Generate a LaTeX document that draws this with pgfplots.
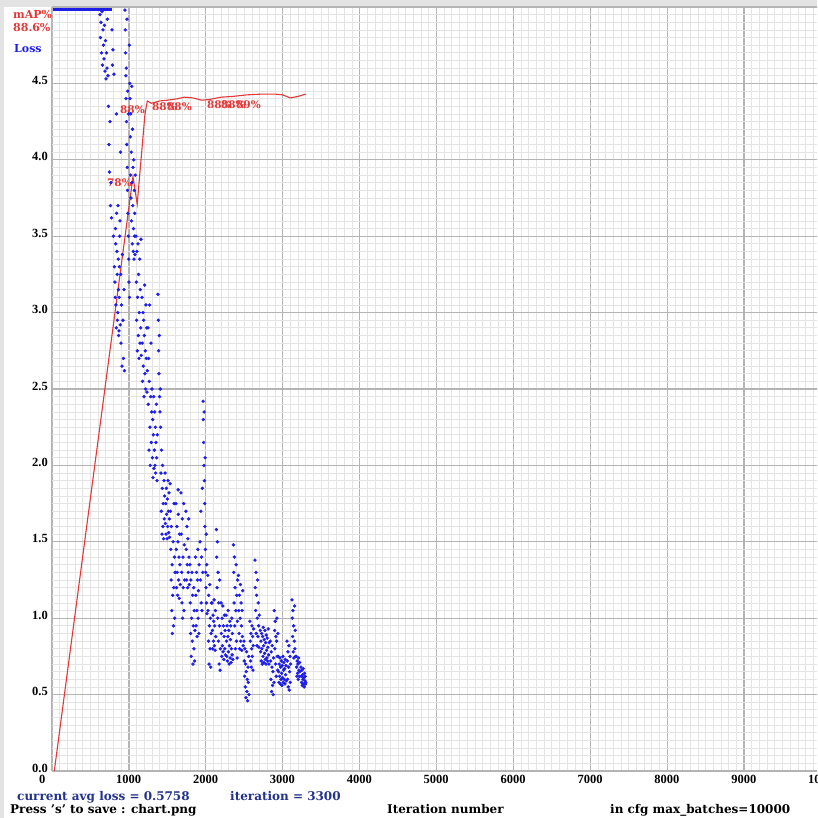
\documentclass[border=0pt]{standalone}
\usepackage{pgfplots}
\pgfplotsset{compat=1.18}
\usepackage{fontspec}
\setmainfont{DejaVu Serif}
\newfontfamily\lib{Liberation Serif}
\definecolor{bord}{HTML}{E3E3E3}
\definecolor{majg}{HTML}{B4B4B4}
\definecolor{ming}{HTML}{E4E4E4}
\definecolor{lossblue}{RGB}{30,30,230}
\definecolor{mapred}{RGB}{228,55,55}
\definecolor{navy}{RGB}{35,50,140}
\begin{document}
\begin{tikzpicture}[x=1pt,y=1pt]
\useasboundingbox (0,0) rectangle (817,-818);
\fill[bord] (0,0) rectangle (817,-818);
\fill[white] (4,-7) rectangle (817,-818);
\clip (0,0) rectangle (817,-818);
\begin{axis}[
  at={(52pt,-771pt)}, anchor=south west,
  scale only axis, width=769pt, height=764pt,
  xmin=0, xmax=10000, ymin=0, ymax=5,
  scaled x ticks=false, scaled y ticks=false,
  axis line style={draw=none},
  major tick length=0pt, minor tick length=0pt,
  xtick={0,1000,2000,3000,4000,5000,6000,7000,8000,9000,10000},
  xticklabels={0,1000,2000,3000,4000,5000,6000,7000,8000,9000,10000},
  ytick={0,0.5,1,1.5,2,2.5,3,3.5,4,4.5,5},
  yticklabels={0.0,0.5,1.0,1.5,2.0,2.5,3.0,3.5,4.0,4.5,{}},
  minor x tick num=9, minor y tick num=9,
  grid=both,
  major grid style={draw=majg, line width=1.3pt},
  minor grid style={draw=ming, line width=0.8pt},
  xticklabel style={anchor=north west, xshift=-13pt, yshift=-4pt, inner sep=0pt, font=\lib\bfseries\fontsize{12.5}{12.5}\selectfont},
  yticklabel style={anchor=east, xshift=-4pt, yshift=3pt, inner sep=0pt, font=\lib\bfseries\fontsize{12.5}{12.5}\selectfont},
  clip=false,
]
% loss values above 5 clipped at the top
\addplot[lossblue, line width=3pt] coordinates {(13,4.985) (780,4.985)};
% loss per iteration
\addplot[lossblue, only marks, mark=*, mark size=1.5pt, mark options={draw=none, fill=lossblue}] coordinates {
(624,4.95) (630,4.80) (637,4.90) (643,4.70) (650,4.97) (656,4.62) (663,4.85) (669,4.75) (676,4.66)
(682,4.88) (689,4.58) (695,4.78) (702,4.53) (708,4.70) (715,4.60) (721,4.92) (728,4.55)
(734,4.35) (741,4.10) (747,3.92) (754,4.25) (760,3.70) (767,3.85) (773,3.62)
(780,4.85) (786,4.62) (793,4.72) (799,3.50) (806,4.56) (812,3.30)
(819,3.20) (822,3.10) (825,3.55) (828,3.45) (832,3.05) (835,2.90) (838,4.30) (841,3.65) (845,3.40) (848,3.25) (851,2.95) (854,3.00) (858,3.70) (861,3.35) (864,3.15) (867,2.85) (871,2.88) (874,3.10) (877,3.30) (880,3.50) (884,3.60) (887,2.92) (890,4.05)
(893,3.25) (897,2.80) (903,3.05) (910,2.65) (916,3.38) (923,2.95) (929,2.70) (936,3.15) (942,2.62)
(949,4.98) (953,4.85) (956,4.70) (960,4.55) (962,4.40) (966,4.60) (969,4.25) (972,4.10) (975,4.92) (979,3.95) (982,3.80) (985,4.45) (988,3.65) (992,3.50) (995,4.30) (998,3.35) (1001,3.20) (1005,4.75) (1008,3.10) (1011,4.50)
(1014,4.40) (1018,4.15) (1021,3.90) (1024,4.30) (1027,3.75) (1030,4.05) (1034,3.60) (1037,4.48) (1040,3.85) (1044,3.45) (1047,4.20) (1050,3.70) (1053,3.95) (1057,3.40) (1060,3.55) (1063,4.00) (1066,3.35) (1070,3.80) (1073,3.50) (1076,3.65) (1079,3.38) (1083,3.90)
(1092,3.50) (1096,3.20) (1100,2.95) (1105,3.40) (1109,2.75) (1113,3.10) (1118,3.45) (1122,2.85) (1126,3.25) (1131,2.70) (1135,3.00) (1140,3.35) (1144,2.80) (1148,3.15) (1153,2.90) (1157,3.48) (1161,2.72)
(1170,3.10) (1174,2.80) (1178,2.55) (1183,3.00) (1187,2.65) (1192,2.95) (1196,2.45) (1200,2.85) (1205,3.18) (1209,2.60) (1213,2.75) (1218,2.50) (1222,3.05) (1226,2.70) (1231,2.90) (1235,2.48) (1240,2.62)
(1248,2.90) (1252,2.40) (1256,2.70) (1261,2.10) (1265,2.55) (1270,3.05) (1274,2.25) (1278,2.00) (1283,2.45) (1287,2.80) (1291,2.15) (1296,2.35)
(1300,2.50) (1305,2.05) (1309,2.30) (1313,1.92) (1318,2.20) (1322,2.45) (1326,1.98) (1331,2.10) (1335,2.35) (1339,2.00) (1344,2.25) (1348,1.95) (1352,2.15) (1357,2.40) (1361,2.05) (1365,1.90) (1370,2.20)
(1378,3.12) (1382,2.95) (1386,2.75) (1391,2.60) (1395,2.85) (1399,2.45) (1404,2.35) (1408,2.50)
(1413,2.25) (1417,1.95) (1421,1.70) (1425,2.10) (1430,1.55) (1434,1.85) (1438,2.00) (1443,1.60) (1447,1.75) (1451,1.52) (1456,1.90) (1460,1.65) (1465,1.80)
(1470,1.95) (1474,1.62) (1478,1.75) (1483,1.55) (1487,1.85) (1491,1.68) (1496,1.52) (1500,1.78) (1504,1.60) (1509,1.90) (1513,1.70) (1517,1.56) (1522,1.82) (1526,1.65) (1530,1.53)
(1536,1.88) (1540,1.70) (1544,1.45) (1549,1.25) (1553,1.60) (1557,1.05) (1562,1.35) (1566,0.90) (1570,1.15) (1575,1.50) (1579,0.95) (1583,1.20) (1588,1.75) (1592,1.40) (1596,1.00) (1601,1.30)
(1612,1.75) (1616,1.45) (1620,1.20) (1625,1.60) (1629,1.30) (1633,1.15) (1638,1.50) (1640,1.84) (1642,1.68) (1646,1.25) (1651,1.40) (1655,1.13) (1659,1.55) (1664,1.35) (1668,1.22)
(1677,1.82) (1681,1.55) (1686,1.30) (1690,1.10) (1694,1.65) (1699,1.00) (1703,1.40) (1707,1.20) (1712,1.75) (1716,1.05) (1720,1.48) (1725,1.25)
(1742,1.70) (1746,1.45) (1751,1.25) (1755,1.60) (1759,1.35) (1764,1.20) (1768,1.52) (1772,1.30) (1777,1.65) (1781,1.40) (1785,1.22)
(1794,1.35) (1798,1.10) (1803,0.90) (1807,1.25) (1811,0.75) (1816,1.00) (1820,1.30) (1824,0.85) (1829,1.15) (1833,0.70) (1837,0.95) (1842,1.20) (1846,0.80) (1850,1.05) (1855,0.72) (1859,0.92)
(1865,1.40) (1870,1.15) (1874,0.95) (1878,1.30) (1883,1.05) (1887,0.88) (1891,1.25) (1896,1.45) (1900,1.00) (1904,1.18) (1909,0.90) (1913,1.35)
(1925,1.50) (1930,1.25) (1935,1.70) (1940,1.10) (1945,1.40) (1950,1.05) (1955,1.85) (1960,1.30) (1965,2.42) (1968,2.30) (1972,2.15) (1975,2.00) (1978,2.35) (1982,1.90) (1985,1.75) (1988,1.60) (1992,2.05) (1995,1.45) (1998,1.30) (2002,1.20) (2005,1.55) (2008,1.10) (2012,1.35) (2015,1.03)
(2025,1.28) (2029,1.05) (2034,0.85) (2038,1.15) (2042,0.70) (2047,0.95) (2051,1.22) (2055,0.80) (2060,1.00) (2064,0.68) (2068,0.90) (2073,1.10)
(2082,1.10) (2086,0.92) (2090,0.80) (2095,1.02) (2099,0.85) (2103,0.98) (2108,1.12) (2112,0.82) (2116,0.95) (2121,0.79) (2125,1.05) (2129,0.88)
(2138,1.58) (2142,1.40) (2147,1.20) (2151,1.50) (2155,1.00) (2160,1.30) (2164,0.85) (2168,1.10) (2173,0.70) (2177,0.95) (2181,1.25) (2186,0.66) (2190,0.80)
(2199,1.10) (2203,0.90) (2208,0.75) (2212,1.00) (2216,0.82) (2221,1.08) (2225,0.78) (2229,0.95) (2234,0.73) (2238,0.88) (2242,1.02) (2247,0.80) (2251,0.92) (2255,0.76)
(2264,1.02) (2268,0.85) (2273,0.75) (2277,0.95) (2281,0.72) (2286,0.88) (2290,1.05) (2294,0.78) (2299,0.92) (2303,0.70) (2307,0.82) (2312,0.98) (2316,0.74) (2320,0.86) (2325,0.95) (2329,0.71) (2333,0.80) (2338,1.00) (2342,0.76) (2346,0.90) (2351,0.73)
(2359,1.48) (2363,1.30) (2368,1.10) (2372,1.40) (2376,0.95) (2381,1.20) (2385,0.80) (2389,1.05) (2394,1.35) (2398,0.85) (2402,1.15) (2407,0.74) (2411,0.98) (2415,1.25)
(2424,1.28) (2428,1.05) (2433,0.90) (2437,1.15) (2441,0.80) (2446,1.00) (2450,1.22) (2454,0.85) (2459,1.10) (2463,0.95) (2467,0.79) (2472,1.05) (2476,0.88) (2480,1.18) (2485,0.82)
(2496,0.85) (2500,0.72) (2505,0.62) (2509,0.80) (2513,0.55) (2518,0.70) (2522,0.48) (2526,0.65) (2531,0.78) (2535,0.52) (2539,0.60) (2544,0.46) (2548,0.68) (2552,0.58) (2557,0.75) (2561,0.50)
(2574,0.98) (2578,0.85) (2583,0.72) (2587,0.90) (2591,0.68) (2596,0.80) (2600,0.95) (2604,0.75) (2609,0.88) (2613,0.66) (2617,0.82) (2622,0.93)
(2639,1.38) (2643,1.20) (2648,1.05) (2652,1.30) (2656,0.90) (2661,1.15) (2665,0.82) (2669,1.00) (2674,1.25) (2678,0.88) (2682,1.10) (2687,0.95) (2691,0.81) (2695,1.02)
(2708,0.92) (2713,0.78) (2717,0.85) (2721,0.72) (2726,0.90) (2730,0.80) (2734,0.70) (2739,0.88) (2743,0.75) (2747,0.94) (2752,0.82) (2756,0.71) (2760,0.86) (2765,0.77) (2769,0.92) (2773,0.73) (2778,0.84) (2782,0.70) (2786,0.89) (2791,0.79) (2795,0.74) (2799,0.87) (2804,0.72) (2808,0.81) (2812,0.93) (2817,0.76) (2821,0.70) (2825,0.84)
(2838,0.85) (2842,0.72) (2847,0.60) (2851,0.78) (2855,0.52) (2860,0.68) (2864,0.82) (2868,0.56) (2873,0.65) (2877,0.50) (2881,0.74) (2886,0.58)
(2890,1.05) (2895,0.92) (2899,0.80) (2903,0.98) (2908,0.70) (2912,0.88) (2916,0.62) (2921,0.85) (2925,1.00) (2929,0.75) (2934,0.66) (2938,0.90)
(2942,0.75) (2947,0.65) (2951,0.58) (2955,0.70) (2960,0.62) (2964,0.74) (2968,0.57) (2973,0.68) (2977,0.60) (2981,0.72) (2986,0.64) (2990,0.56) (2994,0.69) (2999,0.61) (3003,0.75) (3007,0.58) (3012,0.66) (3016,0.71) (3020,0.60) (3025,0.67) (3029,0.57) (3033,0.73) (3038,0.63) (3042,0.69) (3046,0.59)
(3055,0.85) (3059,0.72) (3064,0.60) (3068,0.78) (3072,0.55) (3077,0.68) (3081,0.82) (3085,0.53) (3090,0.65) (3094,0.75) (3098,0.58) (3103,0.70)
(3120,1.12) (3124,1.00) (3129,0.88) (3133,1.05) (3137,0.78) (3142,0.95) (3146,0.74) (3150,0.85) (3155,1.08) (3159,0.80) (3163,0.92) (3168,0.75)
(3176,0.75) (3181,0.68) (3185,0.62) (3189,0.72) (3194,0.64) (3198,0.70) (3202,0.60) (3207,0.74) (3211,0.66) (3215,0.62) (3220,0.71) (3224,0.65)
(3237,0.68) (3241,0.62) (3246,0.58) (3250,0.66) (3254,0.56) (3259,0.63) (3263,0.60) (3267,0.67) (3272,0.57) (3276,0.61) (3280,0.55) (3285,0.64) (3289,0.59) (3293,0.62) (3298,0.57) (3300,0.58)
};
% mAP (scaled: 100% = top of axis)
\addplot[mapred, line width=1.1pt] coordinates {
(30,0) (1053,3.89) (1108,3.71) (1209,4.30) (1240,4.385) (1290,4.37) (1400,4.385) (1500,4.39) (1638,4.40) (1720,4.41) (1833,4.405) (1950,4.39) (2050,4.395) (2200,4.41) (2353,4.415) (2535,4.425) (2730,4.43) (2900,4.43) (3000,4.425) (3100,4.405) (3200,4.415) (3300,4.43)
};
\begin{scope}[every node/.style={anchor=west, inner sep=0pt, text=mapred, font=\bfseries\fontsize{10.5}{10.5}\selectfont}]
\node at (axis cs:715,3.85) {78\%};
\node at (axis cs:884,4.33) {88\%};
\node at (axis cs:1300,4.35) {88\%};
\node at (axis cs:1495,4.35) {88\%};
\node at (axis cs:2015,4.36) {88\%};
\node at (axis cs:2197,4.36) {88\%};
\node at (axis cs:2392,4.36) {89\%};
\end{scope}
\end{axis}
\begin{scope}[every node/.style={anchor=base west, inner sep=0pt}]
\node[text=mapred, font=\bfseries\fontsize{11}{11}\selectfont] at (13,-19) {mAP\%};
\node[text=mapred, font=\bfseries\fontsize{11}{11}\selectfont] at (13,-32) {88.6\%};
\node[text=lossblue, font=\bfseries\fontsize{11}{11}\selectfont] at (14,-53) {Loss};
\node[text=navy, font=\bfseries\fontsize{12}{12}\selectfont] at (17,-800) {current avg loss = 0.5758};
\node[text=navy, font=\bfseries\fontsize{12}{12}\selectfont] at (230,-800) {iteration = 3300};
\node[text=black, font=\bfseries\fontsize{12}{12}\selectfont] at (10,-813) {Press \char39s\char39{} to save : chart.png};
\node[text=black, font=\bfseries\fontsize{12}{12}\selectfont] at (387,-813) {Iteration number};
\node[text=black, font=\bfseries\fontsize{12}{12}\selectfont] at (610,-813) {in cfg max\_batches=10000};
\end{scope}
\end{tikzpicture}
\end{document}
